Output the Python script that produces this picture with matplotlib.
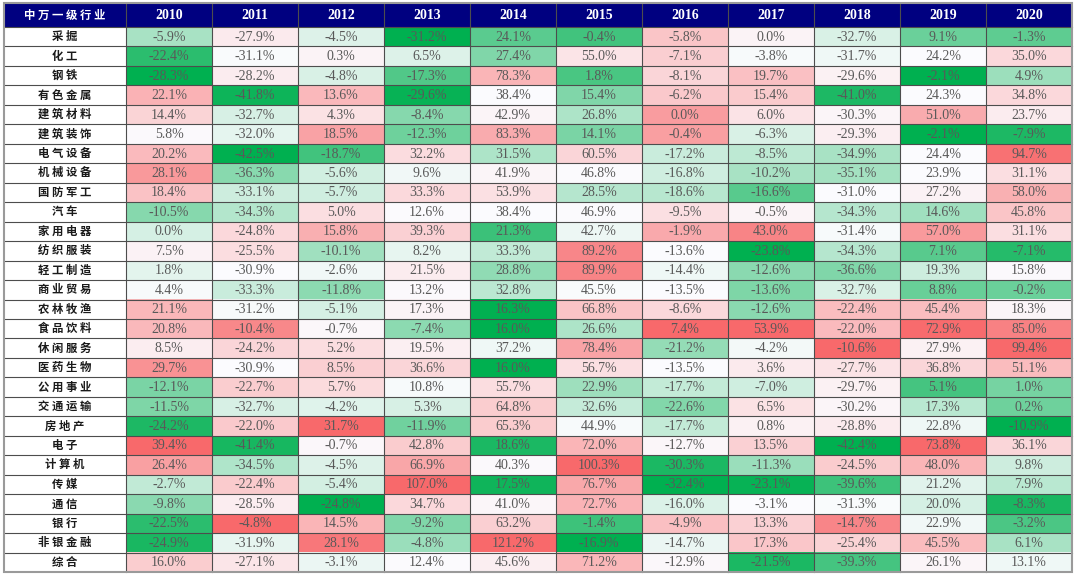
import numpy as np
import matplotlib
matplotlib.use("Agg")
import matplotlib.pyplot as plt
from matplotlib.colors import LinearSegmentedColormap, TwoSlopeNorm

header_label = "申万一级行业"
header_label = "中万一级行业"
years = ["2010", "2011", "2012", "2013", "2014", "2015", "2016", "2017", "2018", "2019", "2020"]
categories = ['采掘', '化工', '钢铁', '有色金属', '建筑材料', '建筑装饰', '电气设备', '机械设备', '国防军工',
              '汽车', '家用电器', '纺织服装', '轻工制造', '商业贸易', '农林牧渔', '食品饮料', '休闲服务',
              '医药生物', '公用事业', '交通运输', '房地产', '电子', '计算机', '传媒', '通信', '银行',
              '非银金融', '综合']

v2010 = [-5.9, -22.4, -28.3, 22.1, 14.4, 5.8, 20.2, 28.1, 18.4, -10.5, 0.0, 7.5, 1.8, 4.4, 21.1, 20.8, 8.5,
         29.7, -12.1, -11.5, -24.2, 39.4, 26.4, -2.7, -9.8, -22.5, -24.9, 16.0]
v2011 = [-27.9, -31.1, -28.2, -41.8, -32.7, -32.0, -42.5, -36.3, -33.1, -34.3, -24.8, -25.5, -30.9, -33.3,
         -31.2, -10.4, -24.2, -30.9, -22.7, -32.7, -22.0, -41.4, -34.5, -22.4, -28.5, -4.8, -31.9, -27.1]
v2012 = [-4.5, 0.3, -4.8, 13.6, 4.3, 18.5, -18.7, -5.6, -5.7, 5.0, 15.8, -10.1, -2.6, -11.8, -5.1, -0.7, 5.2,
         8.5, 5.7, -4.2, 31.7, -0.7, -4.5, -5.4, -24.8, 14.5, 28.1, -3.1]
v2013 = [-31.2, 6.5, -17.3, -29.6, -8.4, -12.3, 32.2, 9.6, 33.3, 12.6, 39.3, 8.2, 21.5, 13.2, 17.3, -7.4, 19.5,
         36.6, 10.8, 5.3, -11.9, 42.8, 66.9, 107.0, 34.7, -9.2, -4.8, 12.4]
v2014 = [24.1, 27.4, 78.3, 38.4, 42.9, 83.3, 31.5, 41.9, 53.9, 38.4, 21.3, 33.3, 28.8, 32.8, 16.3, 16.0, 37.2,
         16.0, 55.7, 64.8, 65.3, 18.6, 40.3, 17.5, 41.0, 63.2, 121.2, 45.6]
v2015 = [-0.4, 55.0, 1.8, 15.4, 26.8, 14.1, 60.5, 46.8, 28.5, 46.9, 42.7, 89.2, 89.9, 45.5, 66.8, 26.6, 78.4,
         56.7, 22.9, 32.6, 44.9, 72.0, 100.3, 76.7, 72.7, -1.4, -16.9, 71.2]
v2016 = [-5.8, -7.1, -8.1, -6.2, 0.0, -0.4, -17.2, -16.8, -18.6, -9.5, -1.9, -13.6, -14.4, -13.5, -8.6, 7.4,
         -21.2, -13.5, -17.7, -22.6, -17.7, -12.7, -30.3, -32.4, -16.0, -4.9, -14.7, -12.9]
v2017 = [0.0, -3.8, 19.7, 15.4, 6.0, -6.3, -8.5, -10.2, -16.6, -0.5, 43.0, -23.8, -12.6, -13.6, -12.6, 53.9,
         -4.2, 3.6, -7.0, 6.5, 0.8, 13.5, -11.3, -23.1, -3.1, 13.3, 17.3, -21.5]
v2018 = [-32.7, -31.7, -29.6, -41.0, -30.3, -29.3, -34.9, -35.1, -31.0, -34.3, -31.4, -34.3, -36.6, -32.7,
         -22.4, -22.0, -10.6, -27.7, -29.7, -30.2, -28.8, -42.4, -24.5, -39.6, -31.3, -14.7, -25.4, -39.3]
v2019 = [9.1, 24.2, -2.1, 24.3, 51.0, -2.1, 24.4, 23.9, 27.2, 14.6, 57.0, 7.1, 19.3, 8.8, 45.4, 72.9, 27.9,
         36.8, 5.1, 17.3, 22.8, 73.8, 48.0, 21.2, 20.0, 22.9, 45.5, 26.1]
v2020 = [-1.3, 35.0, 4.9, 34.8, 23.7, -7.9, 94.7, 31.1, 58.0, 45.8, 31.1, -7.1, 15.8, -0.2, 18.3, 85.0, 99.4,
         51.1, 1.0, 0.2, -10.9, 36.1, 9.8, 7.9, -8.3, -3.2, 6.1, 13.1]

columns = [v2010, v2011, v2012, v2013, v2014, v2015, v2016, v2017, v2018, v2019, v2020]
data = np.array(columns).T  # rows x years

# ---- layout (pixels) ----
W, H = 1080, 575
left, label_w, col_w = 4, 122, 86
top, head_h = 3, 24
bottom = 572
nrows, ncols = data.shape
row_h = (bottom - top - head_h) / nrows

fig = plt.figure(figsize=(W / 100, H / 100), dpi=100)
ax = fig.add_axes([0, 0, 1, 1])
ax.set_xlim(0, W)
ax.set_ylim(H, 0)
ax.axis("off")

cmap = LinearSegmentedColormap.from_list("gwr", ["#00B050", "#FCFCFF", "#F8696B"])

# per-column 3-colour scale (min -> green, median -> white, max -> red)
rgba = np.zeros((nrows, ncols, 4))
for j in range(ncols):
    col = data[:, j]
    norm = TwoSlopeNorm(vmin=col.min(), vcenter=np.median(col), vmax=col.max())
    rgba[:, j, :] = cmap(norm(col))

x_body0 = left + label_w
x_body1 = x_body0 + col_w * ncols
y_body0 = top + head_h
ax.imshow(rgba, extent=(x_body0, x_body1, bottom, y_body0), aspect="auto",
          interpolation="nearest", zorder=1)

# label column background and header
ax.add_patch(plt.Rectangle((left, y_body0), label_w, bottom - y_body0, facecolor="white", zorder=0.5))
ax.add_patch(plt.Rectangle((left, top), x_body1 - left, head_h, facecolor="#000080", zorder=1))

cjk = ["Noto Sans CJK SC", "DejaVu Sans"]
serif = ["Liberation Serif", "DejaVu Serif"]

def spaced(s):
    return "\u2009".join(s) if False else " ".join(s)

# header texts
ax.text(left + label_w / 2, top + head_h / 2, spaced(header_label), ha="center", va="center",
        color="white", fontsize=8.2, fontweight="bold", family=cjk, zorder=3)
for j, y in enumerate(years):
    ax.text(x_body0 + col_w * (j + 0.5), top + head_h / 2 + 0.5, y, ha="center", va="center",
            color="white", fontsize=10, fontweight="bold", family=serif, zorder=3)

# body texts
for i, c in enumerate(categories):
    yc = y_body0 + row_h * (i + 0.5)
    ax.text(left + label_w / 2, yc, spaced(c), ha="center", va="center", color="#1a1a1a",
            fontsize=8.2, fontweight="bold", family=cjk, zorder=3)
    for j in range(ncols):
        ax.text(x_body0 + col_w * (j + 0.5), yc + 0.5, f"{data[i, j]:.1f}%", ha="center", va="center",
                color="#595959", fontsize=10, family=serif, zorder=3)

# grid lines
line_kw = dict(color="#4d4d4d", linewidth=0.8, zorder=2)
for i in range(nrows):
    y = y_body0 + row_h * i
    ax.plot([left, x_body1], [y, y], **line_kw)
ax.plot([x_body0, x_body0], [top, bottom], **line_kw)
for j in range(1, ncols):
    x = x_body0 + col_w * j
    ax.plot([x, x], [top, bottom], **line_kw)
ax.add_patch(plt.Rectangle((left, top), x_body1 - left, bottom - top, fill=False,
                           edgecolor="#9a9a9a", linewidth=1.5, zorder=2.5))

fig.savefig("out.png", dpi=100)
